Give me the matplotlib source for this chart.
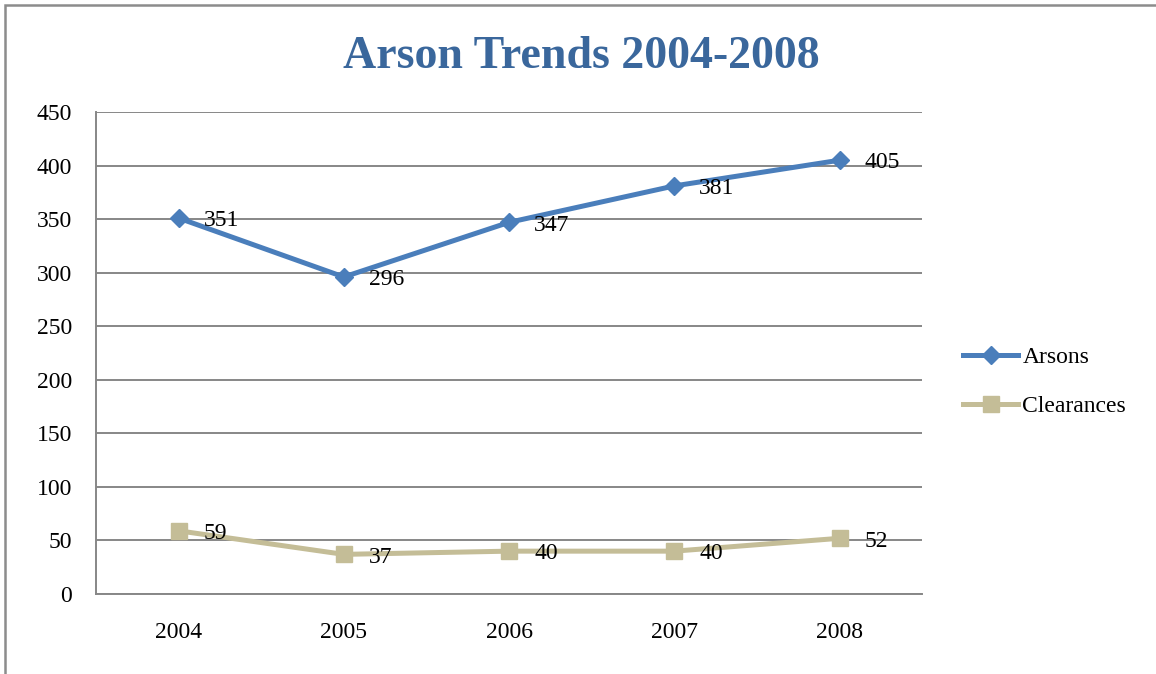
import matplotlib.pyplot as plt
from matplotlib.patches import Rectangle

years = ['2004', '2005', '2006', '2007', '2008']
arsons = [351, 296, 347, 381, 405]
clearances = [59, 37, 40, 40, 52]

plt.rcParams['font.family'] = ['Liberation Serif', 'DejaVu Serif']

fig = plt.figure(figsize=(11.56, 6.74), dpi=100)
fig.patches.append(Rectangle((5 / 1156, -0.1), 1.2, 1.1 - 5 / 674, transform=fig.transFigure,
                             fill=False, edgecolor='#8c8c8c', linewidth=1.8))
ax = fig.add_axes([0.083, 0.1187, 0.7147, 0.7151])

x = list(range(len(years)))
ax.plot(x, arsons, color='#4A7EBB', linewidth=3.6, marker='D', markersize=9,
        label='Arsons', zorder=3)
ax.plot(x, clearances, color='#C4BD97', linewidth=3.6, marker='s', markersize=12,
        label='Clearances', zorder=3)

for xi, v in zip(x, arsons):
    ax.annotate(str(v), (xi, v), xytext=(18, -2), textcoords='offset points',
                va='center', ha='left', fontsize=17, color='black', zorder=4)
for xi, v in zip(x, clearances):
    ax.annotate(str(v), (xi, v), xytext=(18, -2), textcoords='offset points',
                va='center', ha='left', fontsize=17, color='black', zorder=4)

ax.set_xlim(-0.5, 4.5)
ax.set_ylim(0, 450)
ax.set_yticks(range(0, 451, 50))
ax.set_xticks(x)
ax.set_xticklabels(years)
ax.tick_params(axis='both', length=0, labelsize=17, colors='black')
ax.tick_params(axis='x', pad=20)
ax.tick_params(axis='y', pad=17)
ax.grid(axis='y', color='#878787', linewidth=1.4)
ax.set_axisbelow(True)
for s in ['top', 'right']:
    ax.spines[s].set_visible(False)
for s in ['left', 'bottom']:
    ax.spines[s].set_color('#878787')
    ax.spines[s].set_linewidth(1.4)

fig.text(0.503, 0.915, 'Arson Trends 2004-2008', ha='center', va='center',
         fontsize=33, fontweight='bold', color='#3A679C')

ax.legend(loc='center left', bbox_to_anchor=(1.05, 0.44), frameon=False,
          fontsize=17, handlelength=2.3, handletextpad=0.2, labelspacing=1.15,
          borderpad=0, borderaxespad=0)

fig.savefig('out.png', dpi=100)
